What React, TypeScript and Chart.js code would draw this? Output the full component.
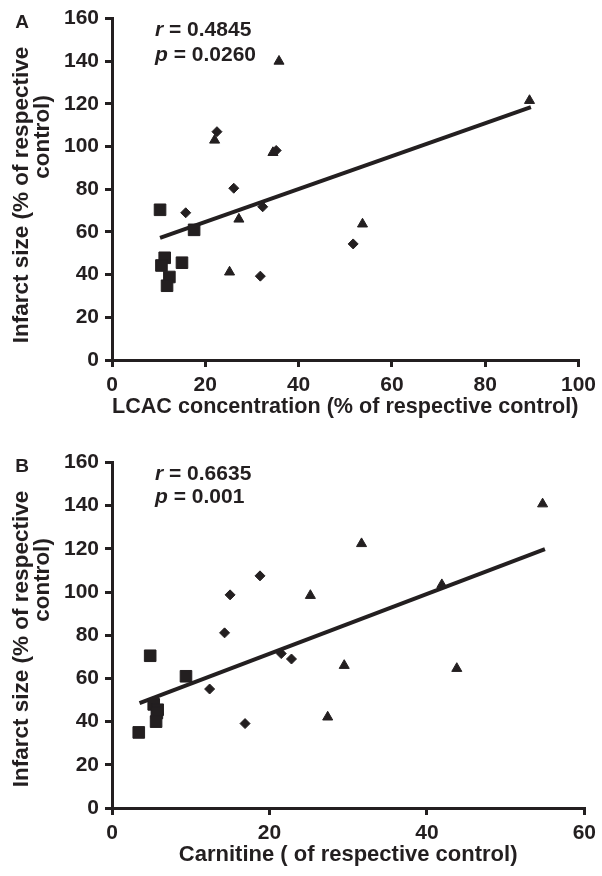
import React, { useEffect, useRef } from "react";
import { Chart, registerables } from "chart.js";

Chart.register(...registerables);

const INK = "#231f20";
const FONT = "'Liberation Sans', Arial, Helvetica, sans-serif";

// ---------- Panel A: LCAC concentration vs infarct size ----------
const aSquareX = [10.3, 17.6, 11.3, 10.6, 15.0, 12.3, 11.8];
const aSquareY = [70.4, 61.0, 47.9, 44.3, 45.6, 38.9, 34.8];
const aDiamondX = [22.5, 35.2, 26.1, 15.8, 32.3, 51.7, 31.8];
const aDiamondY = [107.0, 98.2, 80.5, 69.0, 71.8, 54.4, 39.3];
const aTriangleX = [35.8, 89.5, 22.0, 34.5, 27.2, 53.7, 25.2];
const aTriangleY = [140.0, 121.6, 103.0, 97.2, 66.0, 63.7, 41.2];
const aFitX = [10.3, 89.8];
const aFitY = [57.2, 118.5];
const aXTicks = [0, 20, 40, 60, 80, 100];

// ---------- Panel B: Carnitine vs infarct size ----------
const bSquareX = [4.85, 9.4, 5.3, 5.8, 5.7, 5.6, 3.4];
const bSquareY = [70.5, 61.0, 48.0, 45.5, 44.0, 40.0, 35.0];
const bDiamondX = [18.8, 15.0, 14.3, 12.4, 16.9, 21.5, 22.8];
const bDiamondY = [107.5, 98.7, 81.1, 55.1, 39.1, 71.5, 69.0];
const bTriangleX = [54.7, 31.7, 41.9, 25.2, 29.5, 43.8, 27.4];
const bTriangleY = [140.8, 122.4, 103.4, 98.4, 66.0, 64.6, 42.1];
const bFitX = [3.5, 55.0];
const bFitY = [48.6, 119.9];
const bXTicks = [0, 20, 40, 60];

const yTicks = [0, 20, 40, 60, 80, 100, 120, 140, 160];
const yTitleLines = ["Infarct size (% of respective", "control)"];

type PanelProps = {
  letter: string;
  top: number;
  height: number;
  padTop: number;
  padRight: number;
  xAxisHeight: number;
  xMax: number;
  xTicks: number[];
  xTitle: string;
  xTitlePadBottom: number;
  rText: string;
  pText: string;
  sqX: number[];
  sqY: number[];
  diX: number[];
  diY: number[];
  trX: number[];
  trY: number[];
  fitX: number[];
  fitY: number[];
  letterY: number;
  annY1: number;
  annY2: number;
  yTitle1Y: number;
  yTitle2Y: number;
};

const pts = (xs: number[], ys: number[]) => xs.map((x, i) => ({ x, y: ys[i] }));

function ScatterPanel(p: PanelProps) {
  const ref = useRef<HTMLCanvasElement>(null);

  useEffect(() => {
    if (!ref.current) return;

    const textPlugin = {
      id: "panelText" + p.letter,
      afterDraw(chart: any) {
        const ctx = chart.ctx as CanvasRenderingContext2D;
        ctx.save();
        ctx.fillStyle = INK;
        // panel letter
        ctx.font = `bold 19px ${FONT}`;
        ctx.textAlign = "center";
        ctx.textBaseline = "middle";
        ctx.fillText(p.letter, 22, p.letterY);

        // y-axis title (two rotated lines)
        ctx.font = `bold 22.5px ${FONT}`;
        ctx.save();
        ctx.translate(22, p.yTitle1Y);
        ctx.rotate(-Math.PI / 2);
        ctx.fillText(yTitleLines[0], 0, 0);
        ctx.restore();
        ctx.save();
        ctx.translate(43, p.yTitle2Y);
        ctx.rotate(-Math.PI / 2);
        ctx.fillText(yTitleLines[1], 0, 0);
        ctx.restore();

        // r and p annotation
        const drawStat = (sym: string, rest: string, y: number) => {
          ctx.textAlign = "left";
          ctx.textBaseline = "middle";
          ctx.font = `italic bold 21px ${FONT}`;
          const x0 = 155;
          ctx.fillText(sym, x0, y);
          const w = ctx.measureText(sym).width;
          ctx.font = `bold 21px ${FONT}`;
          ctx.fillText(rest, x0 + w, y);
        };
        drawStat("r", " = " + p.rText, p.annY1);
        drawStat("p", " = " + p.pText, p.annY2);
        ctx.restore();
      },
    };

    const tickFont = { family: FONT, size: 21, weight: "bold" as const };

    const chart = new Chart(ref.current, {
      type: "scatter",
      data: {
        datasets: [
          {
            label: "squares",
            data: pts(p.sqX, p.sqY),
            pointStyle: "rect",
            pointRadius: 8.2,
            backgroundColor: INK,
            borderColor: INK,
            borderWidth: 1,
          },
          {
            label: "diamonds",
            data: pts(p.diX, p.diY),
            pointStyle: "rectRot",
            pointRadius: 5,
            backgroundColor: INK,
            borderColor: INK,
            borderWidth: 1,
          },
          {
            label: "triangles",
            data: pts(p.trX, p.trY),
            pointStyle: "triangle",
            pointRadius: 5.8,
            backgroundColor: INK,
            borderColor: INK,
            borderWidth: 1,
          },
          {
            type: "line",
            label: "fit",
            data: pts(p.fitX, p.fitY),
            showLine: true,
            borderColor: INK,
            borderWidth: 4,
            pointRadius: 0,
            fill: false,
          } as any,
        ],
      },
      options: {
        animation: false,
        responsive: false,
        devicePixelRatio: 1,
        events: [],
        layout: {
          padding: { left: 0, right: p.padRight, top: p.padTop, bottom: 0 },
        },
        plugins: {
          legend: { display: false },
          tooltip: { enabled: false },
        },
        scales: {
          x: {
            type: "linear",
            min: 0,
            max: p.xMax,
            afterBuildTicks: (scale: any) => {
              scale.ticks = p.xTicks.map((v) => ({ value: v }));
            },
            afterFit: (scale: any) => {
              scale.height = p.xAxisHeight;
            },
            ticks: {
              color: INK,
              font: tickFont,
              padding: 6,
              maxRotation: 0,
            },
            grid: {
              display: true,
              drawOnChartArea: false,
              drawTicks: true,
              tickLength: 7,
              color: INK,
              lineWidth: 3,
            },
            border: { display: true, color: INK, width: 3 },
            title: {
              display: true,
              text: p.xTitle,
              color: INK,
              font: { family: FONT, size: 22, weight: "bold" },
              padding: { top: 0, bottom: p.xTitlePadBottom },
            },
          },
          y: {
            type: "linear",
            min: 0,
            max: 160,
            afterBuildTicks: (scale: any) => {
              scale.ticks = yTicks.map((v) => ({ value: v }));
            },
            afterFit: (scale: any) => {
              scale.width = 112;
            },
            ticks: {
              color: INK,
              font: tickFont,
              padding: 6,
            },
            grid: {
              display: true,
              drawOnChartArea: false,
              drawTicks: true,
              tickLength: 7,
              color: INK,
              lineWidth: 3,
            },
            border: { display: true, color: INK, width: 3 },
          },
        },
      },
      plugins: [textPlugin],
    } as any);

    return () => chart.destroy();
  }, []);

  return (
    <canvas
      ref={ref}
      width={602}
      height={p.height}
      style={{ position: "absolute", left: 0, top: p.top, width: 602, height: p.height, display: "block" }}
    />
  );
}

export default function App() {
  return (
    <div style={{ position: "absolute", left: 0, top: 0, width: 602, height: 876, background: "#ffffff" }}>
      <ScatterPanel
        letter="A"
        top={0}
        height={430}
        padTop={17}
        padRight={22}
        xAxisHeight={70}
        xMax={100}
        xTicks={aXTicks}
        xTitle="LCAC concentration (% of respective control)"
        xTitlePadBottom={10}
        rText="0.4845"
        pText="0.0260"
        sqX={aSquareX}
        sqY={aSquareY}
        diX={aDiamondX}
        diY={aDiamondY}
        trX={aTriangleX}
        trY={aTriangleY}
        fitX={aFitX}
        fitY={aFitY}
        letterY={23}
        annY1={30}
        annY2={55}
        yTitle1Y={195}
        yTitle2Y={137}
      />
      <ScatterPanel
        letter="B"
        top={430}
        height={446}
        padTop={32.5}
        padRight={12}
        xAxisHeight={68}
        xMax={60}
        xTicks={bXTicks}
        xTitle="Carnitine ( of respective control)"
        xTitlePadBottom={8}
        rText="0.6635"
        pText="0.001"
        sqX={bSquareX}
        sqY={bSquareY}
        diX={bDiamondX}
        diY={bDiamondY}
        trX={bTriangleX}
        trY={bTriangleY}
        fitX={bFitX}
        fitY={bFitY}
        letterY={37}
        annY1={44}
        annY2={67}
        yTitle1Y={209}
        yTitle2Y={150}
      />
    </div>
  );
}
